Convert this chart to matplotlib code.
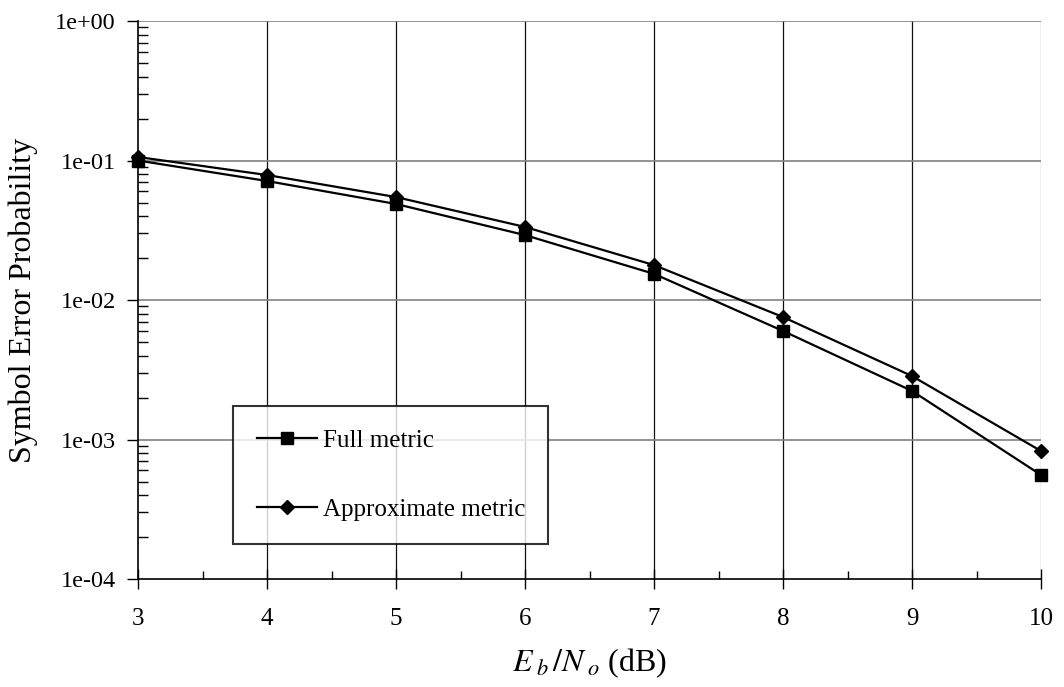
import matplotlib
matplotlib.use("Agg")
import matplotlib.pyplot as plt
from matplotlib.ticker import FixedLocator, FuncFormatter, LogLocator, NullFormatter

plt.rcParams['font.family'] = ['Liberation Serif', 'DejaVu Serif']
plt.rcParams['mathtext.fontset'] = 'stix'

ebno_db = [3, 4, 5, 6, 7, 8, 9, 10]
ser_full = [0.100, 0.0713, 0.0488, 0.0292, 0.0154, 0.0060, 0.00223, 0.000557]
ser_approx = [0.106, 0.0787, 0.0547, 0.0334, 0.0178, 0.00755, 0.00285, 0.000827]

fig = plt.figure(figsize=(10.64, 6.87), dpi=100)
ax = fig.add_axes([0.1297, 0.1572, 0.9784 - 0.1297, 0.9694 - 0.1572])

ax.set_yscale('log')
ax.set_xlim(3, 10)
ax.set_ylim(1e-4, 1e0)

# grid at major positions
for x in range(4, 11):
    ax.axvline(x, color='#101010' if x < 10 else '#808080', lw=0.9, zorder=1)
for e in [1e-3, 1e-2, 1e-1, 1e0]:
    ax.axhline(e, color='#808080', lw=1.2, zorder=1)

ax.plot(ebno_db, ser_full, color='black', lw=1.6, marker='s', ms=9,
        label='Full metric', zorder=3, clip_on=False)
ax.plot(ebno_db, ser_approx, color='black', lw=1.6, marker='D', ms=7,
        label='Approximate metric', zorder=3, clip_on=False)

for s in ['top', 'right']:
    ax.spines[s].set_visible(False)
ax.spines['left'].set_linewidth(1.2)
ax.spines['bottom'].set_linewidth(1.2)

ax.xaxis.set_major_locator(FixedLocator(ebno_db))
ax.xaxis.set_minor_locator(FixedLocator([3.5, 4.5, 5.5, 6.5, 7.5, 8.5, 9.5]))
ax.yaxis.set_major_locator(FixedLocator([1e-4, 1e-3, 1e-2, 1e-1, 1e0]))
ax.yaxis.set_minor_locator(LogLocator(base=10, subs=range(2, 10), numticks=20))
ax.yaxis.set_minor_formatter(NullFormatter())
ax.yaxis.set_major_formatter(FuncFormatter(lambda v, p: f"{v:.0e}"))

ax.tick_params(axis='x', which='major', direction='inout', length=14, width=1, pad=14, labelsize=18)
ax.tick_params(axis='x', which='minor', direction='in', length=6, width=1)
ax.tick_params(axis='y', which='major', direction='out', length=8, width=1, pad=8, labelsize=17.5)
ax.tick_params(axis='y', which='minor', direction='in', length=7, width=1)

ax.set_ylabel('Symbol Error Probability', fontsize=23, labelpad=12)
ax.set_xlabel(r'$E_{\;b}\,/N_{\;o}$ (dB)', fontsize=23, labelpad=12)

leg = ax.legend(loc='lower left', bbox_to_anchor=(0.105, 0.062, 0.349, 0.25),
                mode='expand', fontsize=18, frameon=True, fancybox=False,
                edgecolor='black', borderpad=0.95, labelspacing=1.85,
                handlelength=2.4, handletextpad=0.25, borderaxespad=0)
leg.get_frame().set_linewidth(1.5)
leg.set_zorder(5)

fig.savefig('out.png', dpi=100, facecolor='white')
